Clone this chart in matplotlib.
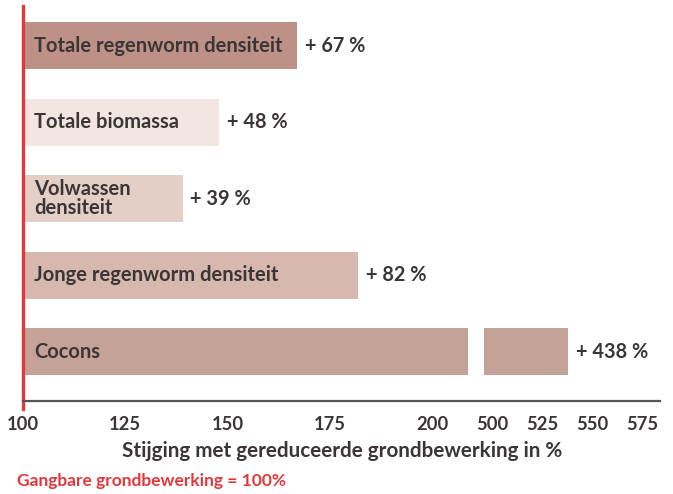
import numpy as np
import matplotlib.pyplot as plt
from matplotlib.lines import Line2D

# data
categories = ['Totale regenworm densiteit', 'Totale biomassa', 'Volwassen\ndensiteit',
              'Jonge regenworm densiteit', 'Cocons']
increase = [67, 48, 39, 82, 438]   # % stijging t.o.v. gangbaar (=100)
value_labels = ['+ 67 %', '+ 48 %', '+ 39 %', '+ 82 %', '+ 438 %']
tick_values = [100, 125, 150, 175, 200, 500, 525, 550, 575]
colors = ['#bd9186', '#f1e6e1', '#e4cfc7', '#d6b8af', '#c5a298']

# broken axis: 100..B_LO then jump to B_HI..
B_LO, B_HI = 208.8, 496.0
R = 0.49   # scale factor right part


def fwd(v):
    v = np.asarray(v, dtype=float)
    left = v - 100
    right = (B_LO - 100) + 3.9 + (v - B_HI) * R
    mid = (B_LO - 100) + (v - B_LO) / (B_HI - B_LO) * 3.9
    return np.where(v <= B_LO, left, np.where(v >= B_HI, right, mid))


def inv(u):
    u = np.asarray(u, dtype=float)
    a = B_LO - 100
    left = u + 100
    right = B_HI + (u - a - 3.9) / R
    mid = B_LO + (u - a) / 3.9 * (B_HI - B_LO)
    return np.where(u <= a, left, np.where(u >= a + 3.9, right, mid))


txt = '#3b3535'
plt.rcParams['font.family'] = ['Lato', 'DejaVu Sans']
plt.rcParams['font.weight'] = 'bold'
plt.rcParams['axes.labelweight'] = 'bold'

fig = plt.figure(figsize=(6.73, 4.94), dpi=100)
ax = fig.add_axes([0.0342, 0.189, 0.947, 0.799])
ax.set_xscale('function', functions=(fwd, inv))

y = np.arange(len(categories))
h = 0.61
for i, (cat, inc) in enumerate(zip(categories, increase)):
    end = 100 + inc
    if end > B_LO:
        ax.barh(i, B_LO - 100, left=100, height=h, color=colors[i])
        ax.barh(i, end - B_HI, left=B_HI, height=h, color=colors[i])
    else:
        ax.barh(i, inc, left=100, height=h, color=colors[i])
    ax.text(102.7, i, cat, va='center', ha='left', fontsize=14.5,
            color=txt, linespacing=0.9)
    ax.annotate(value_labels[i], (end, i), xytext=(5.5, 0), textcoords='offset points',
                va='center', ha='left', fontsize=14.3, color=txt)

ax.set_xlim(100, 584)
ax.set_ylim(4.64, -0.52)
ax.set_yticks([])
ax.set_xticks(tick_values)
ax.set_xticklabels([str(t) for t in tick_values])
ax.tick_params(axis='x', length=0, pad=11, labelsize=13.2, labelcolor=txt)
for s in ['top', 'right', 'left']:
    ax.spines[s].set_visible(False)
ax.spines['bottom'].set_color('#555555')
ax.spines['bottom'].set_linewidth(1.6)

# red reference line at 100%
ax.add_line(Line2D([100, 100], [-0.02, 1.0], transform=ax.get_xaxis_transform(),
                   color='#e2383c', lw=2.4, clip_on=False))

ax.set_xlabel('Stijging met gereduceerde grondbewerking in %', fontsize=14.9,
              color=txt, labelpad=6)
fig.text(0.025, 0.01, 'Gangbare grondbewerking = 100%', color='#e2383c',
         fontsize=12.5, ha='left', va='bottom')

fig.savefig('out.png', dpi=100)
